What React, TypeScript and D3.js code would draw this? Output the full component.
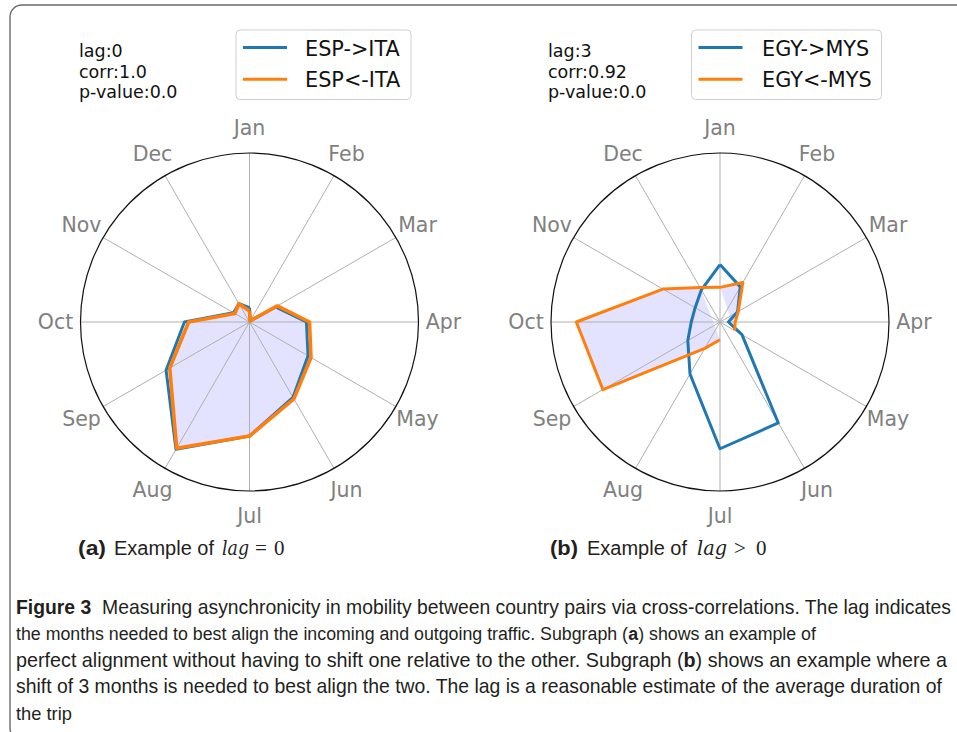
import React from 'react';
import * as d3 from 'd3';

// ---------- data ----------
const months = ['Jan', 'Feb', 'Mar', 'Apr', 'May', 'Jun', 'Jul', 'Aug', 'Sep', 'Oct', 'Nov', 'Dec'];

// panel (a): ESP <-> ITA (normalised traffic, 0..1)
const espToIta = [0.085, 0.008, 0.178, 0.337, 0.4, 0.515, 0.675, 0.87, 0.57, 0.385, 0.11, 0.125];
const espFromIta = [0.065, 0.008, 0.19, 0.355, 0.42, 0.525, 0.675, 0.862, 0.545, 0.36, 0.1, 0.125];

// panel (b): EGY <-> MYS (normalised traffic, 0..1); NaN = missing month
const egyToMys = [0.34, 0.24, 0.12, 0.05, 0.15, 0.69, 0.75, 0.355, 0.22, 0.17, 0.17, 0.22];
const egyFromMys = [0.205, 0.27, 0.125, 0.09, 0.1, NaN, 0.105, 0.18, 0.8, 0.85, 0.39, 0.235];

const statsA = ['lag:0', 'corr:1.0', 'p-value:0.0'];
const statsB = ['lag:3', 'corr:0.92', 'p-value:0.0'];
const legendA = ['ESP->ITA', 'ESP<-ITA'];
const legendB = ['EGY->MYS', 'EGY<-MYS'];

const captionLines: { parts: { t: string; b?: boolean }[]; len: number }[] = [
  { parts: [{ t: 'Figure 3', b: true }, { t: '  Measuring asynchronicity in mobility between country pairs via cross-correlations. The lag indicates' }], len: 936 },
  { parts: [{ t: 'the months needed to best align the incoming and outgoing traffic. Subgraph (' }, { t: 'a', b: true }, { t: ') shows an example of' }], len: 800 },
  { parts: [{ t: 'perfect alignment without having to shift one relative to the other. Subgraph (' }, { t: 'b', b: true }, { t: ') shows an example where a' }], len: 931 },
  { parts: [{ t: 'shift of 3 months is needed to best align the two. The lag is a reasonable estimate of the average duration of' }], len: 927 },
  { parts: [{ t: 'the trip' }], len: 56 },
];

const BLUE = '#1f77b4';
const ORANGE = '#ff7f0e';
const R = 169;
const CAP_FONT = "'Liberation Sans', sans-serif";

const angle = d3.scaleLinear().domain([0, months.length]).range([0, 2 * Math.PI]);
const radius = d3.scaleLinear().domain([0, 1]).range([0, R]);

const isDef = (v: number) => !Number.isNaN(v);

function linePath(vals: number[]) {
  const closed = [...vals, vals[0]];
  const gen = d3
    .lineRadial<number>()
    .angle((_d, i) => angle(i))
    .radius((d) => radius(d))
    .defined((d) => isDef(d));
  return gen(closed) || '';
}

function fillPath(vals: number[]) {
  // matplotlib-like: NaNs split the polygon into separately closed sub-polygons
  const runs: { i: number; v: number }[][] = [];
  let cur: { i: number; v: number }[] = [];
  vals.forEach((v, i) => {
    if (isDef(v)) cur.push({ i, v });
    else {
      if (cur.length) runs.push(cur);
      cur = [];
    }
  });
  if (cur.length) runs.push(cur);
  const gen = d3
    .lineRadial<{ i: number; v: number }>()
    .angle((d) => angle(d.i))
    .radius((d) => radius(d.v))
    .curve(d3.curveLinearClosed);
  return runs.map((r) => gen(r) || '').join(' ');
}

let ctx: CanvasRenderingContext2D | null = null;
function measure(t: string, bold: boolean, size = 19) {
  if (!ctx) ctx = document.createElement('canvas').getContext('2d');
  if (!ctx) return t.length * size * 0.5;
  ctx.font = `${bold ? 'bold ' : ''}${size}px "Liberation Sans"`;
  return ctx.measureText(t).width;
}

function CaptionLine({ parts, len, y }: { parts: { t: string; b?: boolean }[]; len: number; y: number }) {
  const total = parts.reduce((a, p) => a + measure(p.t, !!p.b), 0);
  const fs = 19 * (len / total);
  const widths = parts.map((p) => measure(p.t, !!p.b, fs));
  const k = len / widths.reduce((a, b) => a + b, 0);
  let acc = 16;
  return (
    <g fontSize={fs}>
      {parts.map((p, j) => {
        const lead = p.t.length - p.t.trimStart().length;
        const trimmed = p.t.trim();
        const leadW = lead ? measure(p.t.slice(0, lead), !!p.b, fs) : 0;
        const x = acc + leadW * k;
        acc += widths[j] * k;
        return (
          <text key={j} x={x} y={y} fontWeight={p.b ? 'bold' : 'normal'}>
            {trimmed}
          </text>
        );
      })}
    </g>
  );
}

function Radar({ cx, cy, a, b, stats, legend, lx, legendBox, ow }: {
  cx: number; cy: number; a: number[]; b: number[]; stats: string[]; legend: string[]; lx: number;
  legendBox: { x: number; w: number; tx: number }; ow: number;
}) {
  const lr = R + 25;
  return (
    <g>
      <g transform={`translate(${cx},${cy})`}>
        <path d={fillPath(b)} fill="rgb(0,0,255)" fillOpacity={0.11} stroke="none" />
        {months.map((m, i) => {
          const t = angle(i);
          return (
            <line key={m} x1={0} y1={0} x2={R * Math.sin(t)} y2={-R * Math.cos(t)} stroke="#b0b0b0" strokeWidth={1} />
          );
        })}
        <path d={linePath(a)} fill="none" stroke={BLUE} strokeWidth={3} strokeLinejoin="round" />
        <path d={linePath(b)} fill="none" stroke={ORANGE} strokeWidth={ow} strokeLinejoin="round" />
        <circle r={R} fill="none" stroke="#111" strokeWidth={1.2} />
        {months.map((m, i) => {
          const t = angle(i);
          return (
            <text key={m} x={lr * Math.sin(t)} y={-lr * Math.cos(t)} textAnchor="middle" dominantBaseline="central"
              fontFamily="DejaVu Sans" fontSize={20.5} fill="#808080">{m}</text>
          );
        })}
      </g>
      {stats.map((s, i) => (
        <text key={s} x={lx} y={56.7 + i * 20.8} fontFamily="DejaVu Sans" fontSize={17.5} fill="#111">{s}</text>
      ))}
      <rect x={legendBox.x} y={30} width={legendBox.w} height={69.5} rx={4} fill="#fff" fillOpacity={0.8} stroke="#d0d0d0" strokeWidth={1} />
      {legend.map((s, i) => (
        <g key={s}>
          <line x1={legendBox.x + 7} x2={legendBox.x + 51} y1={47.5 + i * 31.8} y2={47.5 + i * 31.8}
            stroke={i === 0 ? BLUE : ORANGE} strokeWidth={3} />
          <text x={legendBox.tx} y={55.5 + i * 31.8} fontFamily="DejaVu Sans" fontSize={20.8} fill="#111">{s}</text>
        </g>
      ))}
    </g>
  );
}

function SubCaption({ x, label, op, xs }: { x: number; label: string; op: string; xs: number[] }) {
  const y = 555;
  return (
    <g fill="#231f20">
      <text x={x} y={y} fontFamily={CAP_FONT} fontWeight="bold" fontSize={20}
        textLength={28} lengthAdjust="spacingAndGlyphs">{label}</text>
      <text x={xs[0]} y={y} fontFamily={CAP_FONT} fontSize={20}
        textLength={xs[1] - xs[0]} lengthAdjust="spacingAndGlyphs">Example of</text>
      <text x={xs[2]} y={y} fontFamily="'DejaVu Serif', 'Liberation Serif', serif" fontStyle="italic" fontSize={20}
        textLength={xs[3] - xs[2]} lengthAdjust="spacingAndGlyphs">lag</text>
      <text x={xs[4]} y={y} fontFamily="'Liberation Serif', serif" fontSize={21}>{op}</text>
      <text x={xs[5]} y={y} fontFamily="'Liberation Serif', serif" fontSize={21}>0</text>
    </g>
  );
}

export default function App() {
  return (
    <svg width={957} height={732} viewBox="0 0 957 732"
      style={{ position: 'absolute', left: 0, top: 0, background: '#fff', display: 'block' }}>
      <rect x={0} y={0} width={957} height={732} fill="#fff" />
      <rect x={10} y={5} width={1000} height={735} rx={12} fill="none" stroke="#6b6b6b" strokeWidth={1.4} />
      <Radar cx={249.5} cy={322} a={espToIta} b={espFromIta} stats={statsA} legend={legendA} lx={79}
        legendBox={{ x: 236, w: 175, tx: 305 }} ow={3.6} />
      <Radar cx={720} cy={322} a={egyToMys} b={egyFromMys} stats={statsB} legend={legendB} lx={548}
        legendBox={{ x: 691.5, w: 190, tx: 762 }} ow={3} />
      <SubCaption x={78} label="(a)" op="=" xs={[114, 214, 222, 249, 255, 274]} />
      <SubCaption x={550} label="(b)" op=">" xs={[587, 687, 697, 727, 734, 756]} />
      <g fill="#231f20" fontFamily={CAP_FONT}>
        {captionLines.map((ln, i) => (
          <CaptionLine key={i} parts={ln.parts} len={ln.len} y={614 + i * 26.4} />
        ))}
      </g>
    </svg>
  );
}
